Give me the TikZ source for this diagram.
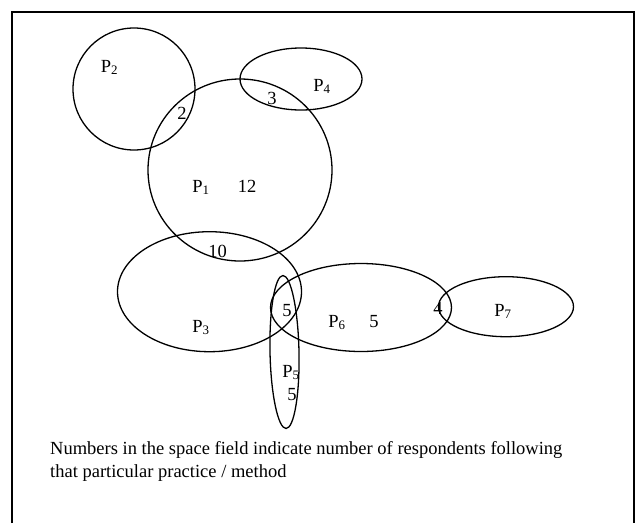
\documentclass[tikz,border=0pt]{standalone}
\usepackage{fontspec}
\setmainfont{Liberation Serif}
\usetikzlibrary{shapes.geometric}
\tikzset{
  setshape/.style={ellipse, draw, line width=1.3pt, inner sep=0pt},
  lbl/.style={anchor=base, inner sep=0pt, font=\fontsize{18.5}{22}\selectfont},
  noteline/.style={anchor=base west, inner sep=0pt, font=\fontsize{18.5}{23}\selectfont},
  frameline/.style={line width=2pt}
}
\newcommand{\Pn}[1]{P\textsubscript{#1}}
\begin{document}
\begin{tikzpicture}[x=1pt,y=-1pt]
  \useasboundingbox (0,0) rectangle (637,523);
  % open frame round the figure
  \coordinate (fbl) at (12,523);
  \coordinate (ftl) at (12,12);
  \coordinate (ftr) at (634,12);
  \coordinate (fbr) at (634,523);
  \draw[frameline] (fbl) -- (ftl) -- (ftr) -- (fbr);

  % practice sets
  \node[setshape, minimum width=122pt, minimum height=122pt] (s2) at (134,89) {};
  \node[setshape, minimum width=184pt, minimum height=182pt] (s1) at (240,170) {};
  \node[setshape, minimum width=122pt, minimum height=62pt] (s4) at (301,79) {};
  \node[setshape, minimum width=184pt, minimum height=120pt] (s3) at (209.5,291.7) {};
  \node[setshape, minimum width=181pt, minimum height=88pt] (s6) at (361,307.5) {};
  \node[setshape, minimum width=135pt, minimum height=60pt] (s7) at (506,306.7) {};
  \node[setshape, minimum width=29pt, minimum height=153pt, rotate=1.2] (s5) at (284.5,352) {};

  % set names and counts
  \node[lbl] (p2) at (109.5,72) {\Pn{2}};
  \node[lbl] (p4) at (322,91) {\Pn{4}};
  \node[lbl] (n2) at (182,119) {2};
  \node[lbl] (n3) at (272,104) {3};
  \node[lbl] (p1) at (201,192) {\Pn{1}};
  \node[lbl] (n12) at (247,192) {12};
  \node[lbl] (n10) at (217.5,257) {10};
  \node[lbl] (n5a) at (287,316) {5};
  \node[lbl] (p3) at (201,332) {\Pn{3}};
  \node[lbl] (p6) at (337,327) {\Pn{6}};
  \node[lbl] (n5b) at (374,327) {5};
  \node[lbl] (n4) at (438,314) {4};
  \node[lbl] (p7) at (503,316) {\Pn{7}};
  \node[lbl] (p5) at (291,377) {\Pn{5}};
  \node[lbl] (n5c) at (292,400) {5};

  % note below the figure
  \node[noteline] (note1) at (50,454)
    {Numbers in the space field indicate number of respondents following};
  \node[noteline] (note2) at (50,477) {that particular practice / method};
\end{tikzpicture}
\end{document}
